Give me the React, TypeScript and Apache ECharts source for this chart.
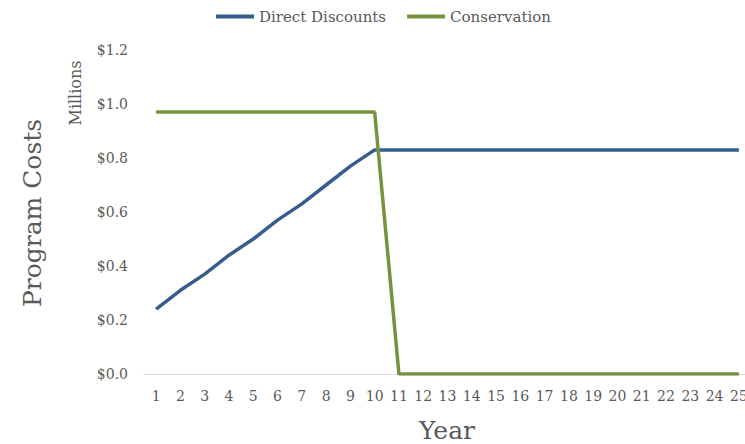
import React, { useEffect, useRef } from "react";
import * as echarts from "echarts";

const years = Array.from({ length: 25 }, (_, i) => String(i + 1));
const directDiscounts = [
  0.24, 0.31, 0.37, 0.44, 0.5, 0.57, 0.63, 0.7, 0.77, 0.83,
  0.83, 0.83, 0.83, 0.83, 0.83, 0.83, 0.83, 0.83, 0.83, 0.83,
  0.83, 0.83, 0.83, 0.83, 0.83,
];
const conservation = [
  0.97, 0.97, 0.97, 0.97, 0.97, 0.97, 0.97, 0.97, 0.97, 0.97,
  0, 0, 0, 0, 0, 0, 0, 0, 0, 0,
  0, 0, 0, 0, 0,
];

const FONT = "DejaVu Serif";
const GREY = "#595959";

export default function App() {
  const ref = useRef<HTMLDivElement>(null);

  useEffect(() => {
    if (!ref.current) return;
    const chart = echarts.init(ref.current, null, { renderer: "svg" });
    chart.setOption({
      animation: false,
      backgroundColor: "#ffffff",
      textStyle: { fontFamily: FONT },
      legend: {
        top: 4,
        left: 211,
        itemWidth: 38,
        itemHeight: 4,
        itemGap: 21,
        icon: "rect",
        textStyle: { fontFamily: FONT, fontSize: 15, color: GREY },
        data: ["Direct Discounts", "Conservation"],
      },
      grid: {
        left: 144,
        right: -6,
        top: 50,
        bottom: 70,
        outerBoundsMode: "none",
      },
      xAxis: {
        type: "category",
        data: years,
        boundaryGap: true,
        axisLine: { lineStyle: { color: "#d9d9d9", width: 1 } },
        axisTick: { show: false },
        axisLabel: {
          color: GREY,
          fontFamily: FONT,
          fontSize: 14,
          margin: 15,
          interval: 0,
        },
      },
      yAxis: {
        type: "value",
        min: 0,
        max: 1.2,
        interval: 0.2,
        splitLine: { show: false },
        axisLine: { show: false },
        axisTick: { show: false },
        axisLabel: {
          color: GREY,
          fontFamily: FONT,
          fontSize: 14,
          margin: 16,
          formatter: (v: number) => "$" + v.toFixed(1),
        },
      },
      series: [
        {
          name: "Direct Discounts",
          type: "line",
          data: directDiscounts,
          showSymbol: false,
          color: "#355e8e",
          lineStyle: { width: 3.5, color: "#355e8e" },
        },
        {
          name: "Conservation",
          type: "line",
          data: conservation,
          showSymbol: false,
          color: "#76923c",
          lineStyle: { width: 3.5, color: "#76923c" },
        },
      ],
      graphic: [
        {
          type: "text",
          x: 32,
          y: 213,
          rotation: Math.PI / 2,
          style: {
            text: "Program Costs",
            fontFamily: FONT,
            fontSize: 25,
            fill: GREY,
            align: "center",
            verticalAlign: "middle",
          },
        },
        {
          type: "text",
          x: 75,
          y: 93,
          rotation: Math.PI / 2,
          style: {
            text: "Millions",
            fontFamily: FONT,
            fontSize: 16,
            fill: GREY,
            align: "center",
            verticalAlign: "middle",
          },
        },
        {
          type: "text",
          x: 447,
          y: 430,
          style: {
            text: "Year",
            fontFamily: FONT,
            fontSize: 25,
            fill: GREY,
            align: "center",
            verticalAlign: "middle",
          },
        },
      ],
    });
    return () => chart.dispose();
  }, []);

  return (
    <div
      ref={ref}
      style={{ position: "fixed", left: 0, top: 0, width: 745, height: 444 }}
    />
  );
}
